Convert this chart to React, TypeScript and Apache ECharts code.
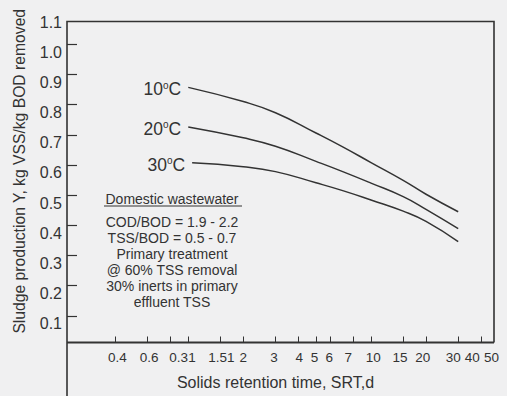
import React, { useEffect, useRef } from 'react';
import * as echarts from 'echarts';

// Solids retention time (d) for each curve point
const srt = [1, 2, 3, 5, 7, 10, 15, 20, 30];
const srt30 = [1.05, 2, 3, 5, 7, 10, 15, 20, 30];
// Sludge production Y, kg VSS/kg BOD removed
const y10 = [0.857, 0.81, 0.773, 0.706, 0.66, 0.608, 0.549, 0.503, 0.445];
const y20 = [0.726, 0.69, 0.662, 0.612, 0.578, 0.54, 0.495, 0.453, 0.389];
const y30 = [0.607, 0.594, 0.578, 0.541, 0.515, 0.484, 0.447, 0.413, 0.346];
const temps = ['10', '20', '30'];

// x axis (log scale) ticks and labels as printed
const xTickValues = [0.4, 0.6, 0.8, 1, 1.5, 2, 3, 4, 5, 6, 8, 10, 15, 20, 30, 40];
const xLabelTexts = ['0.4', '0.6', '0.31', '1.51', '2', '3', '4', '5', '6', '7', '10', '15', '20', '30', '40', '50'];
const xLabelAt = [0.41, 0.61, 0.93, 1.52, 2, 2.95, 4.05, 4.9, 5.9, 7.5, 10.3, 14.4, 19.2, 28.2, 35.8, 45.6];
const xMin = 0.217;
const xMax = 47.1;

// y axis
const yTickValues = [0.1, 0.2, 0.3, 0.4, 0.5, 0.6, 0.7, 0.8, 0.9, 1.0];
const yLabelValues = [0.1, 0.2, 0.3, 0.4, 0.5, 0.6, 0.7, 0.8, 0.9, 1.0, 1.1];
const yMin = 0.012;
const yMax = 1.1;
const yFrameTop = 1.075;

const noteTitle = 'Domestic wastewater';
const noteLines = [
  'COD/BOD = 1.9 - 2.2',
  'TSS/BOD = 0.5 - 0.7',
  'Primary treatment',
  '@ 60% TSS removal',
  '30% inerts in primary',
  'effluent TSS',
];

const INK = '#333333';
const FONT = '"Liberation Sans", Arial, Helvetica, sans-serif';
const lg = (v: number) => Math.log10(v);

export default function App() {
  const ref = useRef<HTMLDivElement>(null);

  useEffect(() => {
    const el = ref.current;
    if (!el) return;
    const chart = echarts.init(el, null, { renderer: 'svg' });

    const mkSeries = (xs: number[], ys: number[], t: string) => ({
      type: 'line',
      smooth: true,
      symbol: 'circle',
      symbolSize: 0,
      showSymbol: true,
      itemStyle: { color: INK },
      lineStyle: { color: INK, width: 1.5 },
      data: xs.map((x, i) =>
        i === 0
          ? {
              value: [lg(x), ys[i]],
              label: {
                show: true,
                position: 'left',
                distance: 7,
                offset: [0, 2],
                formatter: `{n|${t}}{s|o}{n|C}`,
                rich: {
                  n: { fontSize: 17.5, color: INK, fontFamily: FONT },
                  s: { fontSize: 10, color: INK, fontFamily: FONT, verticalAlign: 'top' },
                },
              },
            }
          : [lg(x), ys[i]]
      ),
    });

    const option: any = {
      animation: false,
      backgroundColor: '#f0f0f1',
      textStyle: { fontFamily: FONT },
      grid: { left: 67, right: 13, top: 14, bottom: 53.5 },
      xAxis: {
        type: 'value',
        min: lg(xMin),
        max: lg(xMax),
        name: 'Solids retention time, SRT,d',
        nameLocation: 'middle',
        nameGap: 32,
        nameTextStyle: { fontSize: 16, color: INK, fontFamily: FONT, padding: [0, 10, 0, 0] },
        axisLine: { show: false, onZero: false },
        splitLine: { show: false },
        axisTick: {
          show: true,
          inside: true,
          length: 6,
          customValues: xTickValues.map(lg),
          lineStyle: { color: INK, width: 1 },
        },
        axisLabel: {
          show: true,
          margin: 8,
          fontSize: 13.5,
          color: INK,
          fontFamily: FONT,
          customValues: xLabelAt.map(lg),
          formatter: (v: number) => {
            const i = xLabelAt.findIndex((p) => Math.abs(lg(p) - v) < 1e-6);
            return i >= 0 ? xLabelTexts[i] : '';
          },
        },
      },
      yAxis: {
        type: 'value',
        min: yMin,
        max: yMax,
        name: 'Sludge production Y, kg VSS/kg BOD removed',
        nameLocation: 'middle',
        nameGap: 40,
        nameTextStyle: { fontSize: 15.7, color: INK, fontFamily: FONT, padding: [0, 0, 0, 14] },
        axisLine: { show: false, onZero: false },
        splitLine: { show: false },
        axisTick: {
          show: true,
          inside: true,
          length: 10,
          customValues: yTickValues,
          lineStyle: { color: INK, width: 1.2 },
        },
        axisLabel: {
          show: true,
          margin: 5,
          fontSize: 16,
          color: INK,
          fontFamily: FONT,
          verticalAlign: 'top',
          customValues: yLabelValues,
          formatter: (v: number) => v.toFixed(1),
        },
      },
      series: [
        mkSeries(srt, y10, temps[0]),
        mkSeries(srt, y20, temps[1]),
        mkSeries(srt30, y30, temps[2]),
      ],
    };
    chart.setOption(option);

    const px = (x: number, y: number) => chart.convertToPixel({ gridIndex: 0 }, [x, y]) as number[];
    const tl = px(lg(xMin), yFrameTop);
    const br = px(lg(xMax), yMin);
    const H = chart.getHeight();
    const L = tl[0], T = tl[1], R = br[0], B = br[1];

    const cx = 172;
    const textStyle = (text: string, y: number) => ({
      type: 'text',
      x: cx,
      y,
      style: {
        text,
        align: 'center',
        verticalAlign: 'middle',
        fontSize: 14,
        fontFamily: FONT,
        fill: INK,
      },
    });

    chart.setOption({
      graphic: [
        {
          type: 'polyline',
          shape: { points: [[L, H], [L, T], [R, T], [R, B]] },
          style: { stroke: INK, lineWidth: 1.6, fill: 'none' },
        },
        {
          type: 'line',
          shape: { x1: L, y1: B, x2: R, y2: B },
          style: { stroke: INK, lineWidth: 1.8 },
        },
        textStyle(noteTitle, 199),
        {
          type: 'line',
          shape: { x1: 104, y1: 206, x2: 242, y2: 206 },
          style: { stroke: INK, lineWidth: 1.2 },
        },
        ...noteLines.map((t, i) => textStyle(t, 222 + i * 16)),
      ],
    });

    return () => chart.dispose();
  }, []);

  return (
    <div
      ref={ref}
      style={{ position: 'absolute', left: 0, top: 0, width: 507, height: 396 }}
    />
  );
}
